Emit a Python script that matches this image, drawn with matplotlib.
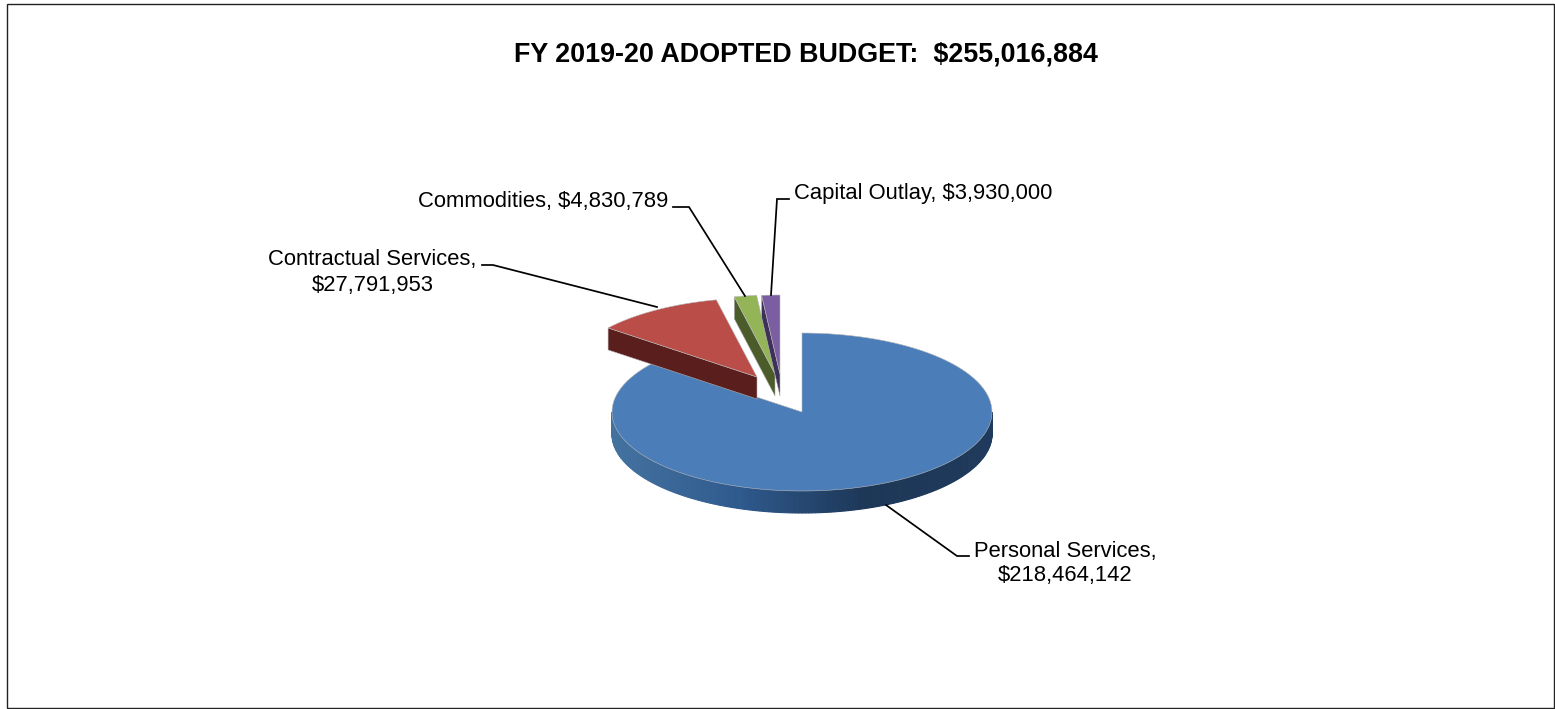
import numpy as np
import matplotlib
matplotlib.use("Agg")
import matplotlib.pyplot as plt
from matplotlib.colors import LinearSegmentedColormap
from matplotlib.patches import Polygon, Rectangle

plt.rcParams['font.family'] = ['Liberation Sans', 'DejaVu Sans']

categories = ["Personal Services", "Contractual Services", "Commodities", "Capital Outlay"]
budget = [218464142, 27791953, 4830789, 3930000]
top_colors = ["#4b7db8", "#bb4d49", "#93b557", "#7b5ea1"]
cut_colors = ["#2f5585", "#5a1f1c", "#4b5c2a", "#3e3059"]

# pie geometry in pixels
cx, cy = 802, 412
rx, ry = 190, 79
depth = 22
explode = [(0, 0), (-45, -35), (-27, -38), (-22, -38)]


def rim(theta, ox, oy, dz=0):
    # theta is clockwise from 12 o'clock
    return cx + ox + rx * np.sin(theta), cy + oy - ry * np.cos(theta) + dz


fig = plt.figure(figsize=(15.55, 7.09), dpi=100)
ax = fig.add_axes([0, 0, 1, 1])
ax.set_xlim(0, 1555)
ax.set_ylim(709, 0)
ax.axis("off")

ax.add_patch(Rectangle((7, 3.5), 1547, 704.5, fill=False, edgecolor="#222222", lw=1.0))

total = sum(budget)
edges = np.concatenate([[0], np.cumsum(budget)]) / total * 2 * np.pi

# outer wall of the big slice, shaded from left to right
wall_cmap = LinearSegmentedColormap.from_list("wall", ["#44729f", "#2f5a8e", "#1d3757", "#1f3a5c"])
wall = np.linspace(np.pi / 2, 3 * np.pi / 2, 181)
for a, b in zip(wall[:-1], wall[1:]):
    xa, ya = rim(a, 0, 0)
    xb, yb = rim(b, 0, 0)
    col = wall_cmap((xa - cx + rx) / (2 * rx))
    ax.add_patch(Polygon([(xa, ya), (xb, yb), (xb, yb + depth), (xa, ya + depth)],
                         facecolor=col, edgecolor=col, lw=0.8, zorder=2))

for i in range(len(budget)):
    ox, oy = explode[i]
    t = np.linspace(edges[i], edges[i + 1], 120)
    xs, ys = rim(t, ox, oy)
    apex = (cx + ox, cy + oy)
    z = 3 + i * 2
    if i > 0:
        # cut face on the leading edge of an exploded slice
        ax.add_patch(Polygon([(xs[0], ys[0]), apex, (apex[0], apex[1] + depth), (xs[0], ys[0] + depth)],
                             facecolor=cut_colors[i], edgecolor="#b0b0b0", lw=0.4, zorder=z))
    ax.add_patch(Polygon(np.column_stack([np.r_[apex[0], xs], np.r_[apex[1], ys]]),
                         facecolor=top_colors[i], edgecolor="#b8b8b8", lw=0.4, zorder=z + 1))

# leader lines
leaders = [
    [(886, 505), (957, 556), (969, 556)],
    [(657, 307), (493, 265), (482, 265)],
    [(745, 296), (689, 207), (673, 207)],
    [(771, 295), (777, 199), (789, 199)],
]
for pts in leaders:
    ax.plot(*zip(*pts), color="black", lw=1.25, zorder=12, solid_joinstyle="miter")

label_size = 15.8
ax.text(1065, 552, f"{categories[0]},", fontsize=label_size, ha="center", va="center")
ax.text(1065, 576, f"${budget[0]:,}", fontsize=label_size, ha="center", va="center")
ax.text(372.5, 260, f"{categories[1]},", fontsize=label_size, ha="center", va="center")
ax.text(373, 285, f"${budget[1]:,}", fontsize=label_size, ha="center", va="center")
ax.text(543, 201, f"{categories[2]}, ${budget[2]:,}", fontsize=label_size, ha="center", va="center")
ax.text(923, 193, f"{categories[3]}, ${budget[3]:,}", fontsize=label_size, ha="center", va="center")

ax.text(806, 54, f"FY 2019-20 ADOPTED BUDGET:  ${total:,}", fontsize=19.4,
        fontweight="bold", ha="center", va="center")

fig.savefig("out.png", dpi=100)
